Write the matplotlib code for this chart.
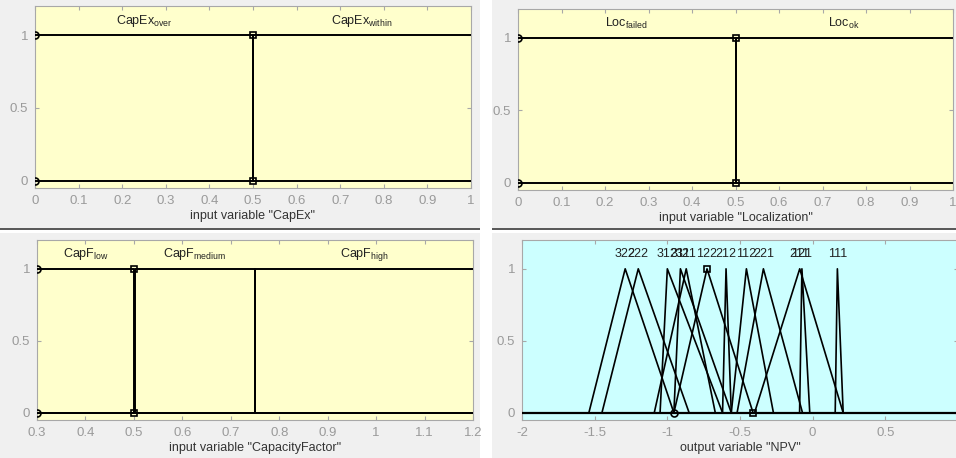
import matplotlib.pyplot as plt
from matplotlib.patches import Rectangle

W, H, DPI = 956, 458, 100

# ---- data -------------------------------------------------------------
CAPEX_RANGE = [0, 1]
CAPEX_NAMES = ["CapEx_over", "CapEx_within"]
CAPEX_X = [[0, 0.5, 0.5, 1], [0, 0.5, 0.5, 1]]
CAPEX_Y = [[1, 1, 0, 0], [0, 0, 1, 1]]

LOC_RANGE = [0, 1]
LOC_NAMES = ["Loc_failed", "Loc_ok"]
LOC_X = [[0, 0.5, 0.5, 1], [0, 0.5, 0.5, 1]]
LOC_Y = [[1, 1, 0, 0], [0, 0, 1, 1]]

CAPF_RANGE = [0.3, 1.2]
CAPF_NAMES = ["CapF_low", "CapF_medium", "CapF_high"]
CAPF_X = [[0.3, 0.5, 0.5, 1.2], [0.3, 0.502, 0.502, 0.75, 0.75, 1.2], [0.3, 0.75, 0.75, 1.2]]
CAPF_Y = [[1, 1, 0, 0], [0, 0, 1, 1, 0, 0], [0, 0, 1, 1]]

NPV_RANGE = [-2, 1]
NPV_NAMES = ["322", "222", "312", "311", "321", "122", "212", "112", "221", "211", "121", "111"]
NPV_A = [-1.54, -1.45, -1.05, -0.955, -1.09, -0.955, -0.62, -0.56, -0.52, -0.40, -0.09, 0.155]
NPV_B = [-1.29, -1.20, -1.00, -0.91, -0.87, -0.727, -0.596, -0.456, -0.339, -0.089, -0.074, 0.170]
NPV_C = [-0.955, -0.85, -0.62, -0.56, -0.67, -0.41, -0.56, -0.27, -0.07, 0.21, -0.02, 0.21]
NPV_SELECTED = 5

YELLOW = "#ffffcc"
CYAN = "#ccffff"
PANEL = "#f0f0f0"
TICK = "#9a9a9a"

plt.rcParams["font.family"] = ["Liberation Sans", "DejaVu Sans"]

fig = plt.figure(figsize=(W / DPI, H / DPI), dpi=DPI, facecolor="white")

# grey panel backgrounds (pixel boxes: x0, y0, x1, y1 from top-left)
for x0, y0, x1, y1 in [(0, 0, 480, 229), (492, 0, 956, 229),
                       (0, 233, 480, 458), (492, 233, 956, 458)]:
    fig.patches.append(Rectangle((x0 / W, 1 - y1 / H), (x1 - x0) / W, (y1 - y0) / H,
                                 transform=fig.transFigure, facecolor=PANEL,
                                 edgecolor="none", zorder=-10))
for x0, x1 in [(0, 480), (492, 956)]:
    fig.patches.append(Rectangle((x0 / W, 1 - 230 / H), (x1 - x0) / W, 2 / H,
                                 transform=fig.transFigure, facecolor="#5a5a5a",
                                 edgecolor="none", zorder=-10))


def make_axes(left, right, top, bottom, bg):
    ax = fig.add_axes([left / W, 1 - bottom / H, (right - left) / W, (bottom - top) / H])
    ax.set_facecolor(bg)
    for s in ax.spines.values():
        s.set_color("#a8a8a8")
        s.set_linewidth(0.8)
    ax.set_ylim(-0.05, 1.2)
    ax.set_yticks([0, 0.5, 1])
    ax.set_yticklabels(["0", "0.5", "1"])
    ax.tick_params(direction="in", top=True, right=True, colors="#a8a8a8",
                   labelcolor=TICK, labelsize=9.5, length=3, width=0.8, pad=5)
    return ax


def label_text(name):
    base, sub = name.split("_")
    return base + r"$_{\mathregular{" + sub + "}}$"


def input_panel(ax, rng, names, xs, ys, xlabel, ticks, ticklabels):
    for i, (x, y) in enumerate(zip(xs, ys)):
        ax.plot(x, y, color="black", lw=1.4, zorder=3)
        top_x = [xv for xv, yv in zip(x, y) if yv == 1]
        ax.text((min(top_x) + max(top_x)) / 2, 1.1, label_text(names[i]),
                ha="center", va="center", fontsize=9, color="#222222")
    # vertex handles of the first membership function
    x0, y0 = xs[0], ys[0]
    ax.plot([x0[0], x0[0]], [1, 0], "o", ms=5, mfc="none", mec="black", mew=1.2, zorder=4)
    ax.plot([x0[1], x0[2]], [y0[1], y0[2]], "s", ms=5, mfc="none", mec="black", mew=1.2, zorder=4)
    ax.set_xlim(rng)
    ax.set_xticks(ticks)
    ax.set_xticklabels(ticklabels)
    ax.set_xlabel(xlabel, fontsize=9, color="#333333", labelpad=2)


ax1 = make_axes(35, 471, 6, 188, YELLOW)
input_panel(ax1, CAPEX_RANGE, CAPEX_NAMES, CAPEX_X, CAPEX_Y, 'input variable "CapEx"',
            [i / 10 for i in range(11)], ["0"] + [f"{i / 10:g}" for i in range(1, 10)] + ["1"])

ax2 = make_axes(518, 953, 9, 190, YELLOW)
input_panel(ax2, LOC_RANGE, LOC_NAMES, LOC_X, LOC_Y, 'input variable "Localization"',
            [i / 10 for i in range(11)], ["0"] + [f"{i / 10:g}" for i in range(1, 10)] + ["1"])

ax3 = make_axes(37, 473, 240, 420, YELLOW)
input_panel(ax3, CAPF_RANGE, CAPF_NAMES, CAPF_X, CAPF_Y, 'input variable "CapacityFactor"',
            [0.3 + i / 10 for i in range(10)], [f"{0.3 + i / 10:g}" for i in range(10)])

ax4 = make_axes(522, 958, 240, 420, CYAN)
ax4.plot(NPV_RANGE, [0, 0], color="black", lw=1.6, zorder=3)
for name, a, b, c in zip(NPV_NAMES, NPV_A, NPV_B, NPV_C):
    ax4.plot([a, b, c], [0, 1, 0], color="black", lw=1.2, zorder=3)
    ax4.text(b, 1.1, name, ha="center", va="center", fontsize=9, color="#222222")
sel = NPV_SELECTED
ax4.plot([NPV_A[sel]], [0], "o", ms=5, mfc="none", mec="black", mew=1.2, zorder=4)
ax4.plot([NPV_B[sel], NPV_C[sel]], [1, 0], "s", ms=5, mfc="none", mec="black", mew=1.2, zorder=4)
ax4.set_xlim(NPV_RANGE)
ax4.set_xticks([-2, -1.5, -1, -0.5, 0, 0.5, 1])
ax4.set_xticklabels(["-2", "-1.5", "-1", "-0.5", "0", "0.5", ""])
ax4.set_xlabel('output variable "NPV"', fontsize=9, color="#333333", labelpad=2)

fig.savefig("out.png", dpi=DPI, facecolor="white")
